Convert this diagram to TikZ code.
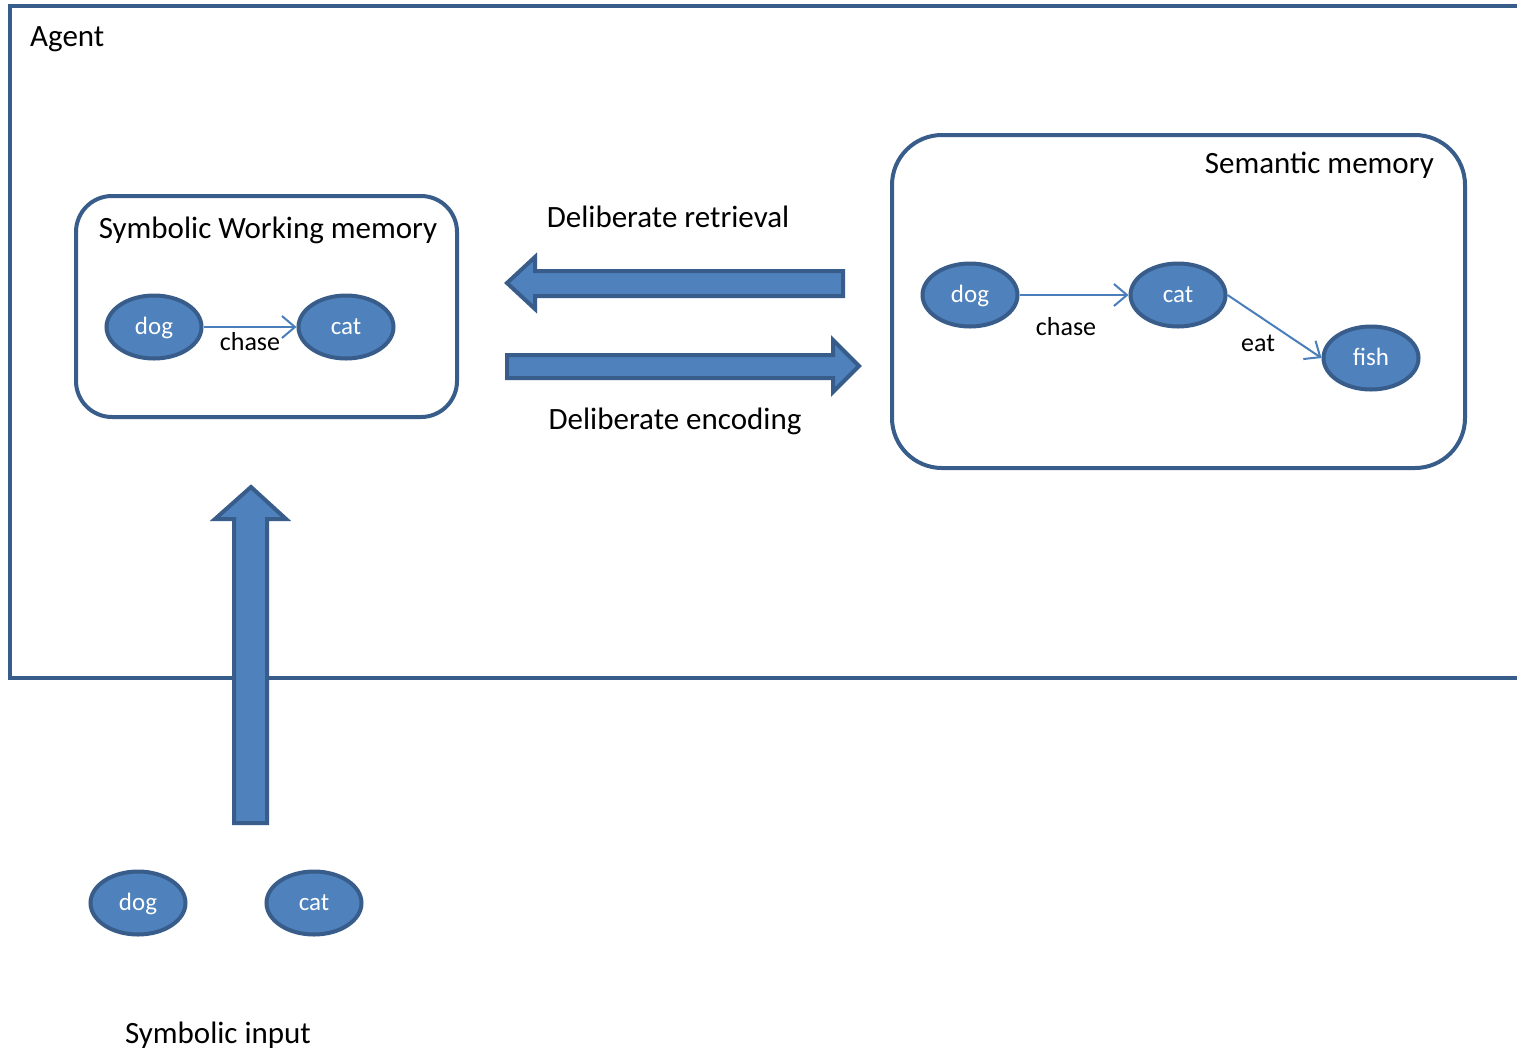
\documentclass[tikz,border=0pt]{standalone}
\usepackage{fontspec}
\setmainfont{Carlito}
\usetikzlibrary{arrows.meta,shapes.geometric}
\definecolor{fillblue}{HTML}{4F81BD}
\definecolor{edgeblue}{HTML}{385D8A}
\definecolor{lineblue}{HTML}{4A7EBB}
\begin{document}
\begin{tikzpicture}[x=1pt,y=-1pt,
  concept/.style={ellipse, draw=edgeblue, fill=fillblue, line width=4pt,
    minimum width=95pt, minimum height=63pt, inner sep=0pt, text=white,
    text height=15pt, text depth=0pt, font=\fontsize{25}{30}\selectfont},
  memframe/.style={draw=edgeblue, line width=4pt, rectangle, inner sep=0pt},
  rel/.style={draw=lineblue, line width=2pt, -{Straight Barb[length=13pt,width=22pt,line width=2pt]}},
  big/.style={font=\fontsize{31}{37}\selectfont, inner sep=0pt},
  small/.style={font=\fontsize{26}{31}\selectfont, inner sep=0pt},
  blockarrow/.style={draw=edgeblue, fill=fillblue, line width=4pt, line join=miter}
]
\useasboundingbox (0,0) rectangle (1517,1053);
\fill[white] (0,0) rectangle (1517,1053);

% Agent frame (open on the right)
\draw[edgeblue, line width=4pt] (1517,6) -- (10,6) -- (10,678) -- (1517,678);
\node[big, anchor=base west] (agent) at (30,46) {Agent};

% Symbolic working memory
\node[memframe, minimum width=381pt, minimum height=221pt, rounded corners=36pt] (wm) at (266.5,306.5) {};
\node[big, anchor=base] (wmtitle) at (268,238) {Symbolic Working memory};
\node[concept] (wdog) at (154,327) {dog};
\node[concept] (wcat) at (346,327) {cat};
\draw[rel] (wdog.east) -- (wcat.west);
\node[small, anchor=base] (wchase) at (250,350) {chase};

% Semantic memory
\node[memframe, minimum width=573pt, minimum height=333pt, rounded corners=50pt] (sm) at (1178.5,301.5) {};
\node[big, anchor=base east] (smtitle) at (1434,173) {Semantic memory};
\node[concept] (sdog) at (970,295) {dog};
\node[concept] (scat) at (1178,295) {cat};
\node[concept] (sfish) at (1371,358) {fish};
\draw[rel] (sdog.east) -- (scat.west);
\draw[rel] (scat.east) -- (sfish.west);
\node[small, anchor=base] (schase) at (1066,335) {chase};
\node[small, anchor=base] (seat) at (1258,351) {eat};

% Block arrows between memories
\draw[blockarrow] (507,283) -- (535,257) -- (535,271) -- (843,271) -- (843,296)
  -- (535,296) -- (535,309) -- cycle;
\draw[blockarrow] (507,355) -- (833,355) -- (833,340) -- (859,366) -- (833,392)
  -- (833,378) -- (507,378) -- cycle;
\node[big, anchor=base] (retr) at (668,227) {Deliberate retrieval};
\node[big, anchor=base] (enc) at (675,429) {Deliberate encoding};

% Input arrow
\draw[blockarrow] (251,487) -- (286,519) -- (267,519) -- (267,823) -- (234,823)
  -- (234,519) -- (215,519) -- cycle;

% Symbolic input
\node[concept] (idog) at (138,903) {dog};
\node[concept] (icat) at (314,903) {cat};
\node[big, anchor=base] (input) at (218,1043) {Symbolic input};
\end{tikzpicture}
\end{document}
